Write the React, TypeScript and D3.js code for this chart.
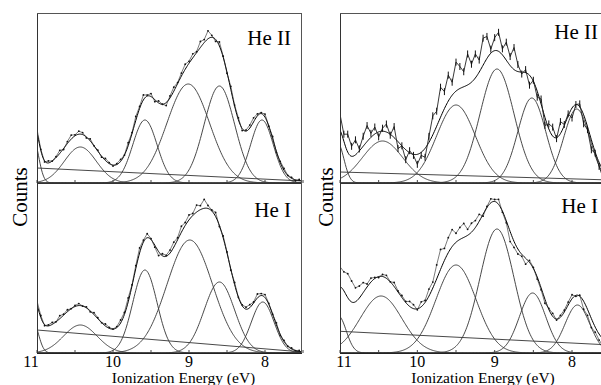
import React from 'react';
import * as d3 from 'd3';

// ---------- data ----------
// energy axis (eV, decreasing to the right)
const ENERGY_DOMAIN = [11, 7.5];
const MAJOR_TICKS = [11, 10, 9, 8];
const MINOR_TICKS = [11, 10.5, 10, 9.5, 9, 8.5, 8, 7.5];
const COUNT_DOMAIN = [0, 170];

// sampling of the measured spectrum: E = 11 - 0.05 * i
const SAMPLE_START = 11;
const SAMPLE_STEP = 0.05;

// Gaussian components: [centre eV, height, sigma eV]
const ltPeaks = [[11.05, 45, 0.07], [10.43, 36, 0.21], [9.58, 63, 0.16], [9.01, 99, 0.28], [8.6, 97, 0.2], [8.04, 63, 0.15]];
const lbPeaks = [[11.05, 31, 0.07], [10.43, 28, 0.22], [9.58, 83, 0.16], [8.99, 113, 0.3], [8.6, 71, 0.2], [8.03, 51, 0.15]];
const rtPeaks = [[11.03, 40, 0.08], [10.45, 42, 0.26], [9.5, 78, 0.25], [8.97, 114, 0.22], [8.52, 85, 0.18], [7.94, 74, 0.17]];
const rbPeaks = [[11.02, 37, 0.1], [10.47, 57, 0.27], [9.5, 88, 0.26], [8.97, 124, 0.22], [8.51, 60, 0.17], [7.93, 48, 0.16]];

// linear background: [value at 11 eV, value at 7.5 eV]
const ltBackground = [15, 2];
const lbBackground = [23, 1];
const rtBackground = [11, 3];
const rbBackground = [21.7, 8];

// measured counts minus fit, at the sample energies
const ltResiduals = [3, 1, -1, 2, 0, 1, 3, -1, 2, 4, 1, 3, 2, -1, 2, 0, 1, -1, 2, 1, -1, 1, 2, 0, 3, 1, 4, 2, 5, 1, 3, -2, 2, 0, -3, 2, 4, 1, 3, 5, 2, 4, 1, 6, 3, 8, 2, -2, 4, 1, -1, 3, 1, 2, -2, 1, 3, 4, 2, 1, 3, 0, 2, -1, 1, 2, 0, 1, -1, 1];
const lbResiduals = [4, 2, -1, 1, 2, 0, 3, 1, 2, 0, 1, 2, 0, 1, -1, 2, 1, 0, 2, 1, 0, 1, 3, 2, 4, 1, 3, 5, 2, 4, 1, -2, -4, 2, 1, 3, 5, 2, 6, 3, 5, 2, 7, 4, 9, 3, 1, 4, -1, 2, 1, -1, 2, 0, 1, 2, 3, 1, 4, 2, 3, 1, 0, 2, -1, 1, 0, 1, 0, 1];
const rtResiduals = [16, 7, 18, 10, 15, 2, 10, 16, 4, 7, -5, 3, 8, -1, 11, -7, 0, -10, 2, -1, -10, -3, -9, 6, 19, 15, 30, 17, 26, 13, 29, 22, 15, 31, 18, 24, 12, 27, 22, 4, 13, 19, 6, 18, 9, 22, 7, -2, 3, -10, 1, -6, 5, -8, 5, 9, -1, 12, 1, 2, -10, 0, 3, -9, -3, -10, -1, -4, -8, -3];
const rbResiduals = [20, 19, 24, 21, 14, 12, 10, 3, 4, 1, -1, 2, 3, 0, 4, 1, 2, 1, 5, 4, -1, 5, 2, 7, 6, 14, 20, 12, 15, 17, 9, 12, 14, 6, 9, 7, 7, -2, 1, 4, 2, 5, -1, -2, -10, -6, -5, -2, -6, 2, 1, -2, -2, -4, 1, 3, -1, 2, 2, 3, 4, -1, 1, -8, -6, -9, -5, -6, -7, -5];

const SOURCE_LABELS = ['He II', 'He I'];
const X_TITLE = 'Ionization Energy (eV)';
const Y_TITLE = 'Counts';

// ---------- layout ----------
const W = 601;
const H = 385;
const FONT = "'Liberation Serif','Times New Roman',Times,serif";

const columns = [
  { x0: 37, x1: 303, right: 302, boxRight: true, elevenDx: -6, titleX: 183.5, countsX: 27 },
  { x0: 340, x1: 610.7, right: 601, boxRight: false, elevenDx: 4, titleX: 483, countsX: 333 },
];
const rows = [
  { top: 13, bottom: 183 },
  { top: 183, bottom: 353 },
];

const panels = [
  { col: 0, row: 0, peaks: ltPeaks, bg: ltBackground, res: ltResiduals, label: SOURCE_LABELS[0], lx: 291, ly: 45, bars: false },
  { col: 0, row: 1, peaks: lbPeaks, bg: lbBackground, res: lbResiduals, label: SOURCE_LABELS[1], lx: 291, ly: 217, bars: false },
  { col: 1, row: 0, peaks: rtPeaks, bg: rtBackground, res: rtResiduals, label: SOURCE_LABELS[0], lx: 598, ly: 39, bars: true },
  { col: 1, row: 1, peaks: rbPeaks, bg: rbBackground, res: rbResiduals, label: SOURCE_LABELS[1], lx: 598, ly: 213, bars: false },
];

const gauss = (e: number, p: number[]) => p[1] * Math.exp(-((e - p[0]) ** 2) / (2 * p[2] * p[2]));

function Panel({ p, idx }: { p: any; idx: number }) {
  const c = columns[p.col];
  const r = rows[p.row];
  const x = d3.scaleLinear().domain(ENERGY_DOMAIN).range([c.x0, c.x1]);
  const y = d3.scaleLinear().domain(COUNT_DOMAIN).range([r.bottom, r.top]);
  const grid = d3.range(0, 351).map((k) => 11 - k * 0.01);
  const bgVal = (e: number) => p.bg[0] + (p.bg[1] - p.bg[0]) * (11 - e) / 3.5;
  const fit = (e: number) => bgVal(e) + p.peaks.reduce((s: number, pk: number[]) => s + gauss(e, pk), 0);
  const line = d3.line<[number, number]>().x((d) => x(d[0])).y((d) => y(d[1]));
  const data: [number, number][] = p.res.map((v: number, i: number) => {
    const e = SAMPLE_START - SAMPLE_STEP * i;
    return [e, fit(e) + v];
  });
  const clipId = `clip${idx}`;
  return (
    <g>
      <defs>
        <clipPath id={clipId}>
          <rect x={c.x0} y={r.top} width={c.right - c.x0} height={r.bottom - r.top + 1} />
        </clipPath>
      </defs>
      <g clipPath={`url(#${clipId})`}>
        <path d={line([[11, bgVal(11)], [7.5, bgVal(7.5)]]) || ''} fill="none" stroke="#333" strokeWidth={0.9} />
        {p.peaks.map((pk: number[], k: number) => (
          <path key={k} d={line(grid.map((e) => [e, gauss(e, pk)]) as [number, number][]) || ''} fill="none" stroke="#333" strokeWidth={0.9} />
        ))}
        <path d={line(grid.map((e) => [e, fit(e)]) as [number, number][]) || ''} fill="none" stroke="#000" strokeWidth={1} />
        <path d={line(data) || ''} fill="none" stroke="#222" strokeWidth={p.bars ? 0.9 : 0.6} />
        {data.map((d, k) =>
          p.bars ? (
            <line key={k} x1={x(d[0])} x2={x(d[0])} y1={y(d[1]) - 3.5} y2={y(d[1]) + 3.5} stroke="#111" strokeWidth={1} />
          ) : (
            <circle key={k} cx={x(d[0])} cy={y(d[1])} r={0.9} fill="#111" />
          )
        )}
      </g>
      {MINOR_TICKS.map((t) => (
        <line key={t} x1={x(t)} x2={x(t)} y1={r.bottom} y2={r.bottom - 3} stroke="#444" strokeWidth={1} />
      ))}
      <text x={p.lx} y={p.ly} textAnchor="end" fontFamily={FONT} fontSize={21} fill="#000">{p.label}</text>
    </g>
  );
}

export default function App() {
  return (
    <svg width={W} height={H} style={{ position: 'absolute', left: 0, top: 0, background: '#fff' }}>
      <rect x={0} y={0} width={W} height={H} fill="#fff" />
      {panels.map((p, i) => (
        <Panel key={i} p={p} idx={i} />
      ))}
      {columns.map((c, ci) => {
        const x = d3.scaleLinear().domain(ENERGY_DOMAIN).range([c.x0, c.x1]);
        return (
          <g key={ci}>
            <line x1={c.x0 + 0.5} x2={c.x0 + 0.5} y1={rows[0].top} y2={rows[1].bottom} stroke="#333" strokeWidth={1} />
            <line x1={c.x0} x2={c.right} y1={rows[0].top + 0.5} y2={rows[0].top + 0.5} stroke="#555" strokeWidth={1} />
            <line x1={c.x0} x2={c.right} y1={rows[0].bottom + 0.5} y2={rows[0].bottom + 0.5} stroke="#333" strokeWidth={1} />
            <line x1={c.x0} x2={c.right} y1={rows[1].bottom + 0.5} y2={rows[1].bottom + 0.5} stroke="#222" strokeWidth={1} />
            {c.boxRight && (
              <line x1={c.right - 0.5} x2={c.right - 0.5} y1={rows[0].top} y2={rows[1].bottom} stroke="#555" strokeWidth={1} />
            )}
            {MAJOR_TICKS.map((t) => (
              <text key={t} x={x(t) + (t === 11 ? c.elevenDx : 0)} y={367} textAnchor="middle" fontFamily={FONT} fontSize={16} fill="#000">
                {t}
              </text>
            ))}
            <text x={c.titleX} y={383} textAnchor="middle" fontFamily={FONT} fontSize={15.5} fill="#000">{X_TITLE}</text>
            <text transform={`translate(${c.countsX},197) rotate(-90)`} textAnchor="middle" fontFamily={FONT} fontSize={21} fill="#000">{Y_TITLE}</text>
          </g>
        );
      })}
    </svg>
  );
}
